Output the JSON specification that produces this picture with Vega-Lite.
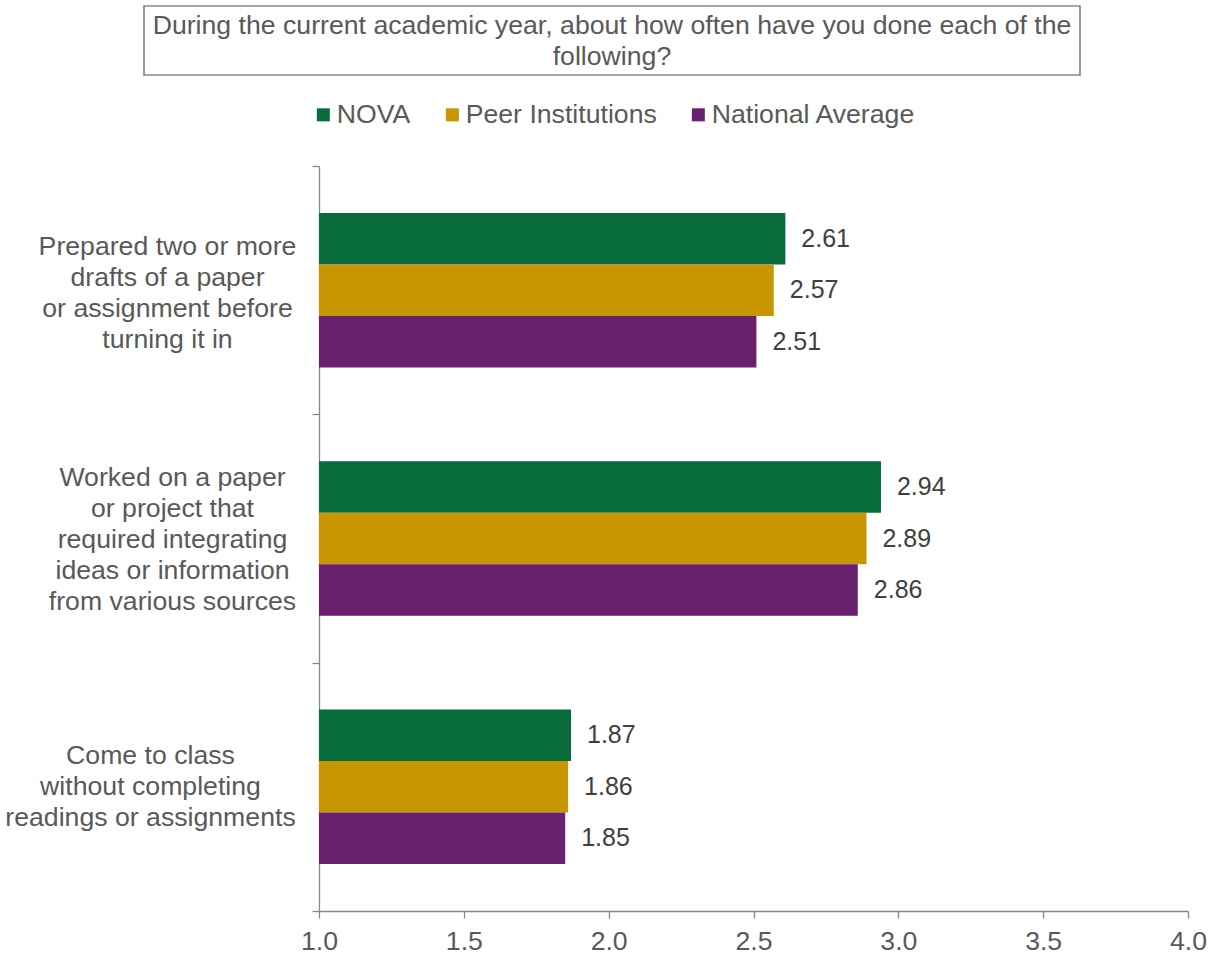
{
  "$schema": "https://vega.github.io/schema/vega-lite/v6.json",
  "background": "white",
  "padding": {"left": 4, "top": 5, "right": 3, "bottom": 3},
  "config": {
    "font": "Liberation Sans",
    "view": {"stroke": null}
  },
  "bounds": "flush",
  "spacing": 91,
  "resolve": {"legend": {"color": "independent"}},
  "vconcat": [
    {
      "name": "heading",
      "width": 936,
      "height": 69,
      "view": {"stroke": "#888888", "strokeWidth": 1.7},
      "data": {"values": [{"heading": "During the current academic year, about how often have you done each of the\nfollowing?"}]},
      "mark": {
        "type": "text",
        "x": {"expr": "heading_width / 2"},
        "y": {"expr": "heading_height / 2 - 15"},
        "align": "center",
        "baseline": "middle",
        "lineBreak": "\n",
        "fontSize": 26.67,
        "lineHeight": 31,
        "color": "#595959"
      },
      "encoding": {"text": {"field": "heading", "type": "nominal"}}
    },
    {
      "bounds": "flush",
      "spacing": 0,
      "resolve": {"legend": {"color": "independent"}},
      "hconcat": [
        {
          "width": 175,
          "height": 10,
          "data": {"values": [{}]},
          "mark": {"type": "text", "text": ""}
        },
        {
          "width": 869,
          "height": 745,
          "data": {
            "values": [
              {"item": "Prepared two or more|drafts of a paper|or assignment before|turning it in", "group": "NOVA", "score": 2.61},
              {"item": "Prepared two or more|drafts of a paper|or assignment before|turning it in", "group": "Peer Institutions", "score": 2.57},
              {"item": "Prepared two or more|drafts of a paper|or assignment before|turning it in", "group": "National Average", "score": 2.51},
              {"item": "Worked on a paper|or project that|required integrating|ideas or information|from various sources", "group": "NOVA", "score": 2.94},
              {"item": "Worked on a paper|or project that|required integrating|ideas or information|from various sources", "group": "Peer Institutions", "score": 2.89},
              {"item": "Worked on a paper|or project that|required integrating|ideas or information|from various sources", "group": "National Average", "score": 2.86},
              {"item": "Come to class|without completing|readings or assignments", "group": "NOVA", "score": 1.87},
              {"item": "Come to class|without completing|readings or assignments", "group": "Peer Institutions", "score": 1.86},
              {"item": "Come to class|without completing|readings or assignments", "group": "National Average", "score": 1.85}
            ]
          },
          "encoding": {
            "y": {
              "field": "item",
              "type": "nominal",
              "sort": null,
              "scale": {"paddingInner": 0, "paddingOuter": 0},
              "axis": {
                "title": null,
                "tickBand": "extent",
                "tickSize": 7,
                "tickColor": "#878787",
                "domainColor": "#878787",
                "domainWidth": 1.3,
                "tickWidth": 1.3,
                "labelFontSize": 26.67,
                "labelColor": "#595959",
                "labelAlign": "center",
                "labelLineHeight": 31,
                "labelLimit": 400,
                "labelExpr": "split(datum.label, '|')",
                "labelOffset": {
                  "condition": [
                    {"test": "length(split(datum.value, '|')) == 5", "value": -61},
                    {"test": "length(split(datum.value, '|')) == 4", "value": -44}
                  ],
                  "value": -31
                },
                "labelPadding": {
                  "condition": [
                    {"test": "length(split(datum.value, '|')) == 5", "value": 140},
                    {"test": "length(split(datum.value, '|')) == 4", "value": 145}
                  ],
                  "value": 162
                }
              }
            },
            "yOffset": {
              "field": "group",
              "type": "nominal",
              "sort": ["NOVA", "Peer Institutions", "National Average"],
              "scale": {"paddingInner": 0, "paddingOuter": 0.91}
            },
            "x": {
              "field": "score",
              "type": "quantitative",
              "scale": {"domain": [1, 4], "zero": false, "nice": false},
              "axis": {
                "title": null,
                "values": [1, 1.5, 2, 2.5, 3, 3.5, 4],
                "format": ".1f",
                "grid": false,
                "tickSize": 7,
                "tickColor": "#878787",
                "domainColor": "#878787",
                "domainWidth": 1.3,
                "tickWidth": 1.3,
                "labelFontSize": 26.67,
                "labelColor": "#595959",
                "labelPadding": 10,
                "labelFlush": false
              }
            }
          },
          "layer": [
            {
              "mark": {"type": "bar"},
              "encoding": {
                "x2": {"datum": 1},
                "color": {
                  "field": "group",
                  "type": "nominal",
                  "scale": {
                    "domain": ["NOVA", "Peer Institutions", "National Average"],
                    "range": ["#076b3a", "#c89600", "#69206f"]
                  },
                  "legend": {
                    "orient": "none",
                    "legendX": -9,
                    "legendY": -65,
                    "direction": "horizontal",
                    "title": null,
                    "padding": 0,
                    "symbolType": "square",
                    "symbolSize": 169,
                    "symbolStrokeWidth": 0,
                    "labelFontSize": 26.67,
                    "labelColor": "#595959",
                    "labelOffset": 0,
                    "columnPadding": 28,
                    "labelLimit": 400
                  }
                }
              }
            },
            {
              "mark": {
                "type": "text",
                "align": "left",
                "baseline": "middle",
                "dx": 16,
                "fontSize": 25,
                "color": "#404040"
              },
              "encoding": {
                "text": {"field": "score", "type": "quantitative", "format": ".2f"}
              }
            }
          ]
        }
      ]
    }
  ]
}
